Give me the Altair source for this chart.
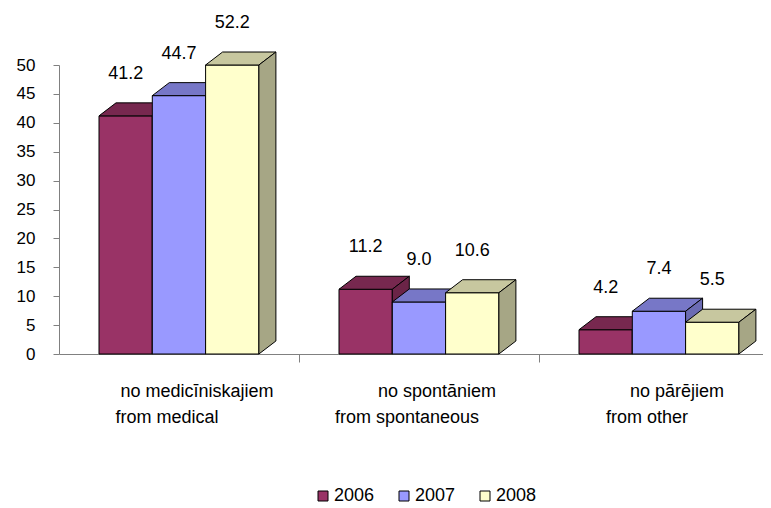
import altair as alt
import pandas as pd

# ---- data ----
line1 = ["no medicīniskajiem", "no spontāniem", "no pārējiem"]
line2 = ["from medical", "from spontaneous", "from other"]
years = ["2006", "2007", "2008"]
v2006 = [41.2, 11.2, 4.2]
v2007 = [44.7, 9.0, 7.4]
v2008 = [52.2, 10.6, 5.5]
y_ticks = [0, 5, 10, 15, 20, 25, 30, 35, 40, 45, 50]

series = [v2006, v2007, v2008]
AXIS_MAX = 50

# ---- styles / geometry ----
FONT = "Liberation Sans"
front_colors = ["#993366", "#9999FF", "#FFFFCC"]
top_colors = ["#77284F", "#7777C7", "#C7C79F"]
side_colors = ["#6B2447", "#6B6BB3", "#A6A685"]

PLOT_W, PLOT_H = 704, 289
BAND_PX = 240.0
PAD = 40 / BAND_PX          # gap before first bar in a group (x units)
BW = 53.3 / BAND_PX         # bar width (x units)
DDX = 17 / BAND_PX          # 3-D depth, horizontal
DDY = 13 * AXIS_MAX / PLOT_H  # 3-D depth, vertical

xs = alt.Scale(domain=[0, PLOT_W / BAND_PX], nice=False, zero=False)
ys = alt.Scale(domain=[0, AXIS_MAX], nice=False)
xaxis = alt.Axis(values=[1, 2], labels=False, title=None, tickSize=8, grid=False,
                 domainColor="#808080", tickColor="#808080")
yaxis = alt.Axis(values=y_ticks, title=None, tickSize=6, grid=False, labelPadding=18,
                 labelFontSize=17, labelFont=FONT, labelColor="black",
                 domainColor="#808080", tickColor="#808080")

layers = []
label_rows = []
for i, yr in enumerate(years):
    front, top, side = [], [], []
    for g, v in enumerate(series[i]):
        h = min(v, AXIS_MAX)
        x0 = g + PAD + i * BW
        x1 = x0 + BW
        bar = f"{yr}-{g}"
        front.append({"year": yr, "x0": x0, "x1": x1, "y0": 0, "y1": h})
        top.append({"bar": bar, "y": h, "xa": x0, "xb": x1})
        top.append({"bar": bar, "y": h + DDY, "xa": x0 + DDX, "xb": x1 + DDX})
        side.append({"bar": bar, "x": x1, "ya": 0, "yb": h})
        side.append({"bar": bar, "x": x1 + DDX, "ya": DDY, "yb": h + DDY})
        label_rows.append({"cx": (x0 + x1) / 2, "y": h, "val": v})

    f = alt.Chart(pd.DataFrame(front)).mark_rect(
        stroke="black", strokeWidth=1, opacity=1).encode(
        x=alt.X("x0:Q", scale=xs, axis=xaxis), x2="x1:Q",
        y=alt.Y("y0:Q", scale=ys, axis=yaxis), y2="y1:Q",
        color=alt.Color("year:N", scale=alt.Scale(domain=years, range=front_colors),
                        legend=alt.Legend(orient="none", legendX=255, legendY=422,
                                          direction="horizontal", title=None,
                                          symbolType="square", symbolSize=100,
                                          symbolStrokeColor="black", symbolStrokeWidth=1,
                                          symbolOpacity=1,
                                          labelFontSize=18, labelFont=FONT,
                                          labelColor="black", labelOffset=2,
                                          columnPadding=20)))
    t = alt.Chart(pd.DataFrame(top)).mark_area(
        orient="horizontal", fill=top_colors[i], stroke="black", strokeWidth=1,
        opacity=1).encode(
        y=alt.Y("y:Q", scale=ys, axis=yaxis),
        x=alt.X("xa:Q", scale=xs, axis=xaxis), x2="xb:Q",
        detail="bar:N")
    s = alt.Chart(pd.DataFrame(side)).mark_area(
        orient="vertical", fill=side_colors[i], stroke="black", strokeWidth=1,
        opacity=1).encode(
        x=alt.X("x:Q", scale=xs, axis=xaxis),
        y=alt.Y("ya:Q", scale=ys, axis=yaxis), y2="yb:Q",
        detail="bar:N")
    layers += [f, t, s]

labels = alt.Chart(pd.DataFrame(label_rows)).mark_text(
    dy=-42, fontSize=18, font=FONT, color="black").encode(
    x=alt.X("cx:Q", scale=xs, axis=xaxis),
    y=alt.Y("y:Q", scale=ys, axis=yaxis),
    text=alt.Text("val:Q", format=".1f"))

cat_df = pd.DataFrame({"cx": [g + 0.5 for g in range(len(line1))],
                       "l1": line1, "l2": line2})
cat1 = alt.Chart(cat_df).mark_text(dy=38, dx=18, fontSize=18, font=FONT,
                                   color="black").encode(
    x=alt.X("cx:Q", scale=xs, axis=xaxis),
    y=alt.Y(datum=0, scale=ys, axis=yaxis), text="l1:N")
cat2 = alt.Chart(cat_df).mark_text(dy=64, dx=-12, fontSize=18, font=FONT,
                                   color="black").encode(
    x=alt.X("cx:Q", scale=xs, axis=xaxis),
    y=alt.Y(datum=0, scale=ys, axis=yaxis), text="l2:N")

chart = alt.layer(*layers, labels, cat1, cat2).properties(
    width=PLOT_W, height=PLOT_H,
    padding={"left": 51, "top": 57, "right": 0, "bottom": 154},
    autosize="none",
    background="white",
).configure_view(stroke=None)

chart.save("out.html", embed_options={"renderer": "svg", "actions": False})
